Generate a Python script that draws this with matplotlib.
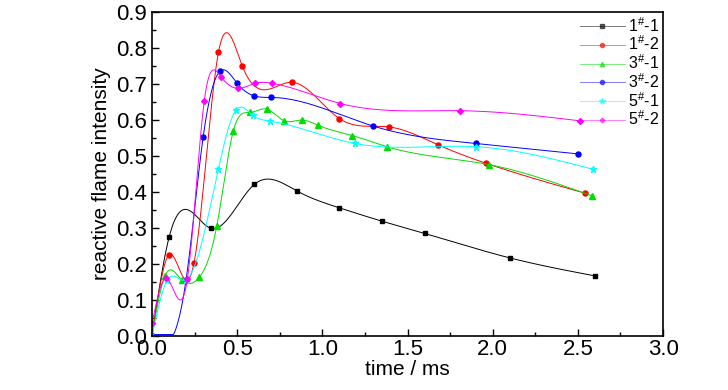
import numpy as np
import matplotlib.pyplot as plt
from matplotlib.ticker import MultipleLocator

plt.rcParams['font.family'] = ['Liberation Sans', 'DejaVu Sans']
plt.rcParams['mathtext.fontset'] = 'custom'
plt.rcParams['mathtext.rm'] = 'Liberation Sans'

# values
t_11 = [0.0, 0.10, 0.346, 0.60, 0.85, 1.10, 1.35, 1.60, 2.10, 2.60]
v_11 = [0.0, 0.274, 0.299, 0.421, 0.403, 0.356, 0.319, 0.285, 0.217, 0.167]

t_12 = [0.0, 0.10, 0.20, 0.247, 0.39, 0.53, 0.82, 1.10, 1.39, 1.68, 1.96, 2.54]
v_12 = [0.0, 0.226, 0.155, 0.204, 0.788, 0.750, 0.705, 0.604, 0.581, 0.531, 0.480, 0.397]

t_31 = [0.0, 0.076, 0.174, 0.278, 0.38, 0.477, 0.575, 0.677, 0.775, 0.879, 0.977, 1.176, 1.378, 1.98, 2.58]
v_31 = [0.0, 0.167, 0.156, 0.163, 0.305, 0.569, 0.621, 0.630, 0.598, 0.600, 0.585, 0.557, 0.526, 0.476, 0.390]

t_32 = [0.0, 0.20, 0.30, 0.40, 0.50, 0.60, 0.70, 1.30, 1.90, 2.50]
v_32 = [0.0, 0.156, 0.552, 0.736, 0.702, 0.667, 0.663, 0.583, 0.535, 0.506]

t_51 = [0.0, 0.09, 0.20, 0.39, 0.493, 0.59, 0.693, 1.19, 1.90, 2.59]
v_51 = [0.0, 0.156, 0.156, 0.464, 0.628, 0.614, 0.597, 0.535, 0.526, 0.463]

t_52 = [0.0, 0.08, 0.207, 0.307, 0.405, 0.507, 0.605, 0.707, 1.106, 1.81, 2.51]
v_52 = [0.035, 0.160, 0.157, 0.654, 0.720, 0.688, 0.702, 0.702, 0.646, 0.626, 0.598]

labels = ['1$^{\\#}$-1', '1$^{\\#}$-2', '3$^{\\#}$-1', '3$^{\\#}$-2', '5$^{\\#}$-1', '5$^{\\#}$-2']
colors = ['black', 'red', '#00dd00', 'blue', 'cyan', 'magenta']
markers = ['s', 'o', '^', 'o', '*', 'D']
sizes = [3.4, 3.6, 3.8, 3.6, 4.6, 3.0]


def spline(x, y, n=400):
    # natural cubic spline through the points
    x = np.asarray(x, float)
    y = np.asarray(y, float)
    k = len(x)
    h = np.diff(x)
    A = np.zeros((k, k))
    b = np.zeros(k)
    A[0, 0] = A[-1, -1] = 1
    for i in range(1, k - 1):
        A[i, i - 1] = h[i - 1]
        A[i, i] = 2 * (h[i - 1] + h[i])
        A[i, i + 1] = h[i]
        b[i] = 6 * ((y[i + 1] - y[i]) / h[i] - (y[i] - y[i - 1]) / h[i - 1])
    m = np.linalg.solve(A, b)
    xs = np.linspace(x[0], x[-1], n)
    idx = np.clip(np.searchsorted(x, xs) - 1, 0, k - 2)
    x0, x1 = x[idx], x[idx + 1]
    hh = x1 - x0
    a = (x1 - xs) / hh
    c = (xs - x0) / hh
    ys = (a * y[idx] + c * y[idx + 1]
          + ((a ** 3 - a) * m[idx] + (c ** 3 - c) * m[idx + 1]) * hh ** 2 / 6)
    return xs, np.maximum(ys, 0.004)


fig = plt.figure(figsize=(7.28, 3.9), dpi=100)
ax = fig.add_axes([0.2088, 0.1385, 0.702, 0.8305])

series = [(t_11, v_11), (t_12, v_12), (t_31, v_31), (t_32, v_32), (t_51, v_51), (t_52, v_52)]
for (t, v), lab, col, mk, ms in zip(series, labels, colors, markers, sizes):
    xs, ys = spline(t, v)
    ax.plot(xs, ys, color=col, lw=0.7, clip_on=False)
    ax.plot(t, v, linestyle='none', marker=mk, color=col, ms=ms)
    ax.plot([], [], color=col, lw=0.6, alpha=0.6, marker=mk, ms=ms - 0.6,
            markerfacecolor=col, markeredgecolor=col, label=lab)

ax.set_xlim(0, 3.0)
ax.set_ylim(0, 0.9)
ax.xaxis.set_major_locator(MultipleLocator(0.5))
ax.xaxis.set_minor_locator(MultipleLocator(0.25))
ax.yaxis.set_major_locator(MultipleLocator(0.1))
ax.yaxis.set_minor_locator(MultipleLocator(0.05))
ax.xaxis.set_major_formatter(plt.FormatStrFormatter('%.1f'))
ax.yaxis.set_major_formatter(plt.FormatStrFormatter('%.1f'))
ax.tick_params(which='both', direction='in', top=False, right=False, labelsize=16)
ax.tick_params(which='major', length=5, width=1)
ax.tick_params(which='minor', length=3, width=1)
ax.tick_params(axis='x', pad=2)
for s in ax.spines.values():
    s.set_linewidth(1.2)

ax.set_xlabel('time / ms', fontsize=15, labelpad=0)
ax.set_ylabel('reactive flame intensity', fontsize=15, labelpad=4)

leg = ax.legend(loc='upper right', frameon=False, fontsize=11.5, handlelength=2.8,
                handletextpad=0.2, labelspacing=0.0, borderaxespad=0.15,
                borderpad=0.1)

fig.savefig('out.png', dpi=100)
